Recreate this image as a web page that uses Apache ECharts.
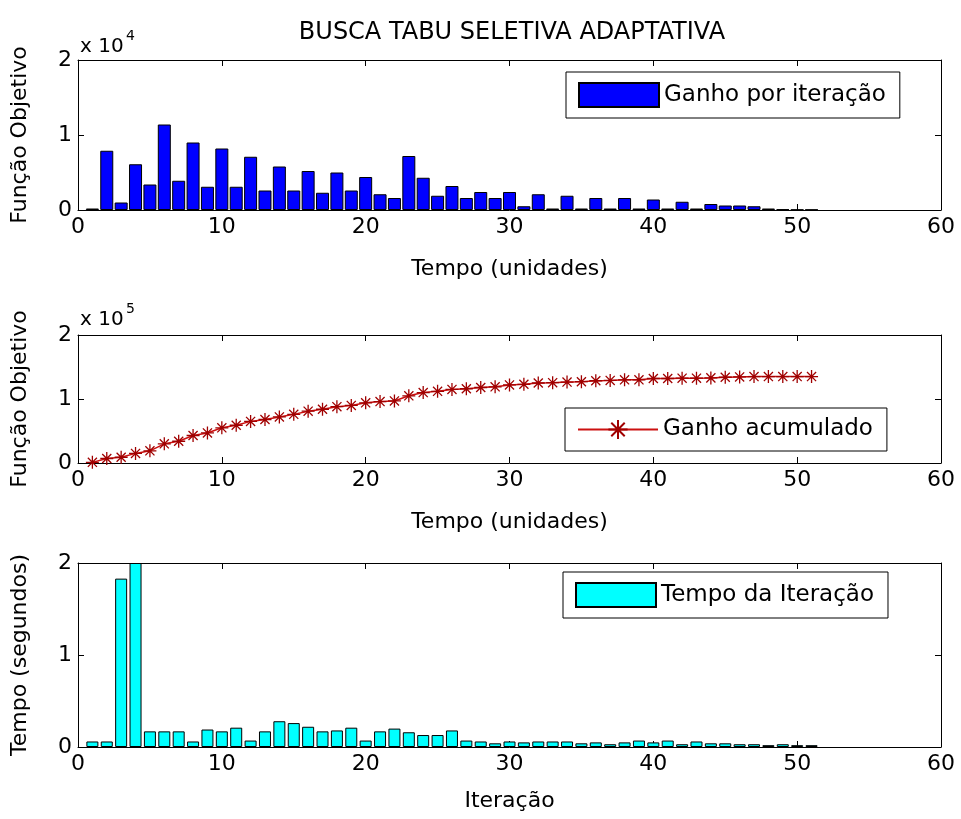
<!DOCTYPE html>
<html>
<head>
<meta charset="utf-8">
<script src="https://cdn.jsdelivr.net/npm/echarts@6/dist/echarts.min.js"></script>
<style>
html, body { margin: 0; padding: 0; background: #fff; }
#chart { width: 961px; height: 819px; }
</style>
</head>
<body>
<div id="chart"></div>
<script>
// iterações (eixo x)
const iteracoes = [1, 2, 3, 4, 5, 6, 7, 8, 9, 10, 11, 12, 13, 14, 15, 16, 17, 18, 19, 20,
  21, 22, 23, 24, 25, 26, 27, 28, 29, 30, 31, 32, 33, 34, 35, 36, 37, 38, 39, 40,
  41, 42, 43, 44, 45, 46, 47, 48, 49, 50, 51]

// ganho por iteração
const ganhoPorIteracao = [200, 7900, 1000, 6100, 3400, 11400, 3900, 9000, 3100, 8200,
  3100, 7100, 2600, 5800, 2600, 5200, 2300, 5000, 2600, 4400,
  2100, 1600, 7200, 4300, 1900, 3200, 1600, 2400, 1600, 2400,
  500, 2100, 200, 1900, 200, 1600, 200, 1600, 200, 1400,
  200, 1100, 200, 800, 600, 600, 500, 200, 100, 50, 50]

// ganho acumulado
const ganhoAcumulado = [1000, 7000, 9000, 15000, 19000, 30000, 34000, 43000, 47000, 55000,
  59000, 65000, 68000, 72000, 76000, 81000, 84000, 88000, 90000, 94000,
  96000, 97000, 105000, 110000, 112000, 115000, 116000, 118000, 119000, 122000,
  123000, 125000, 125500, 126500, 127000, 128500, 129000, 130000, 130000, 132000,
  132000, 132500, 132500, 133000, 134000, 134500, 135000, 135000, 135000, 135000, 135000]

// tempo de cada iteração (segundos)
const tempoIteracao = [0.06, 0.06, 1.83, 2.0, 0.17, 0.17, 0.17, 0.06, 0.19, 0.17,
  0.21, 0.07, 0.17, 0.28, 0.26, 0.22, 0.17, 0.18, 0.21, 0.07,
  0.17, 0.20, 0.16, 0.13, 0.13, 0.18, 0.07, 0.06, 0.04, 0.06,
  0.05, 0.06, 0.06, 0.06, 0.04, 0.05, 0.03, 0.05, 0.07, 0.05,
  0.07, 0.03, 0.06, 0.04, 0.04, 0.03, 0.03, 0.02, 0.03, 0.02, 0.02]

const xTicks = [0, 10, 20, 30, 40, 50, 60]
const yTicks = [0, 1, 2]

const fonte = '"DejaVu Sans", sans-serif'
const tamFonte = 22

const grids = [
  { left: 78, right: 20, top: 60, height: 150 },
  { left: 78, right: 20, top: 335, height: 128 },
  { left: 78, right: 20, top: 563, height: 184 }
]

function eixosX(gridIndex, nome, gap) {
  const base = {
    type: 'value',
    gridIndex: gridIndex,
    min: xTicks[0],
    max: xTicks[xTicks.length - 1],
    interval: xTicks[1] - xTicks[0],
    splitLine: { show: false },
    axisLine: { onZero: false, lineStyle: { color: '#000', width: 1 } },
    axisTick: { inside: true, length: 6, lineStyle: { color: '#000' } }
  }
  return [
    Object.assign({}, base, {
      position: 'bottom',
      axisLabel: { color: '#000', fontSize: tamFonte, fontFamily: fonte, margin: 6 },
      name: nome,
      nameLocation: 'middle',
      nameGap: gap,
      nameTextStyle: { color: '#000', fontSize: tamFonte, fontFamily: fonte }
    }),
    Object.assign({}, base, { position: 'top', axisLabel: { show: false } })
  ]
}

function eixosY(gridIndex, escala) {
  const base = {
    type: 'value',
    gridIndex: gridIndex,
    min: yTicks[0] * escala,
    max: yTicks[yTicks.length - 1] * escala,
    interval: escala,
    splitLine: { show: false },
    axisLine: { show: true, onZero: false, lineStyle: { color: '#000', width: 1 } },
    axisTick: { show: true, inside: true, length: 6, lineStyle: { color: '#000' } }
  }
  return [
    Object.assign({}, base, {
      position: 'left',
      axisLabel: {
        color: '#000', fontSize: tamFonte, fontFamily: fonte, margin: 6,
        formatter: v => String(Math.round(v / escala))
      }
    }),
    Object.assign({}, base, { position: 'right', axisLabel: { show: false } })
  ]
}

function legenda(nome, left, top, icone) {
  const leg = {
    data: [nome],
    left: left,
    top: top,
    itemWidth: 80,
    itemHeight: 24,
    padding: [10, 14, 10, 12],
    borderColor: '#000',
    borderWidth: 1,
    borderRadius: 0,
    backgroundColor: '#fff',
    selectedMode: false,
    textStyle: { color: '#000', fontSize: 23, fontFamily: fonte }
  }
  if (icone) leg.icon = icone
  return leg
}

function textoRotulo(texto, x, y, rot, tam) {
  return {
    type: 'text',
    x: x,
    y: y,
    rotation: rot || 0,
    style: {
      text: texto,
      fill: '#000',
      fontSize: tam || tamFonte,
      fontFamily: fonte,
      align: 'center',
      verticalAlign: 'middle'
    }
  }
}

const asterisco = 'path://M10 0 L10 20 M0 10 L20 10 M3 3 L17 17 M3 17 L17 3'

const chart = echarts.init(document.getElementById('chart'))

const option = {
  animation: false,
  backgroundColor: '#fff',
  textStyle: { fontFamily: fonte },
  grid: grids,
  xAxis: [].concat(
    eixosX(0, 'Tempo (unidades)', 48),
    eixosX(1, 'Tempo (unidades)', 48),
    eixosX(2, 'Iteração', 43)
  ),
  yAxis: [].concat(eixosY(0, 10000), eixosY(1, 100000), eixosY(2, 1)),
  legend: [
    legenda('Ganho por iteração', 566, 72, 'rect'),
    legenda('Ganho acumulado', 565, 408),
    legenda('Tempo da Iteração', 563, 572, 'rect')
  ],
  graphic: [
    textoRotulo('BUSCA TABU SELETIVA ADAPTATIVA', 512, 33, 0, 24),
    { type: 'text', x: 80, y: 47, style: { text: 'x 10', fill: '#000', fontSize: 20, fontFamily: fonte, align: 'left', verticalAlign: 'middle' } },
    { type: 'text', x: 126, y: 36, style: { text: '4', fill: '#000', fontSize: 14, fontFamily: fonte, align: 'left', verticalAlign: 'middle' } },
    { type: 'text', x: 80, y: 320, style: { text: 'x 10', fill: '#000', fontSize: 20, fontFamily: fonte, align: 'left', verticalAlign: 'middle' } },
    { type: 'text', x: 126, y: 309, style: { text: '5', fill: '#000', fontSize: 14, fontFamily: fonte, align: 'left', verticalAlign: 'middle' } },
    textoRotulo('Função Objetivo', 20, 135, Math.PI / 2),
    textoRotulo('Função Objetivo', 20, 399, Math.PI / 2),
    textoRotulo('Tempo (segundos)', 20, 655, Math.PI / 2)
  ],
  series: [
    {
      type: 'bar',
      name: 'Ganho por iteração',
      xAxisIndex: 0,
      yAxisIndex: 0,
      barWidth: 13,
      itemStyle: { color: '#0000ff', borderColor: '#000', borderWidth: 1 },
      data: iteracoes.map((x, i) => [x, ganhoPorIteracao[i]])
    },
    {
      type: 'line',
      name: 'Ganho acumulado',
      xAxisIndex: 2,
      yAxisIndex: 2,
      symbol: asterisco,
      symbolSize: 13,
      lineStyle: { color: '#cc1010', width: 1.5 },
      itemStyle: { color: '#dd0000', borderColor: '#a00000', borderWidth: 1.3 },
      data: iteracoes.map((x, i) => [x, ganhoAcumulado[i]])
    },
    {
      type: 'bar',
      name: 'Tempo da Iteração',
      xAxisIndex: 4,
      yAxisIndex: 4,
      barWidth: 12,
      itemStyle: { color: '#00ffff', borderColor: '#000', borderWidth: 1 },
      data: iteracoes.map((x, i) => [x, tempoIteracao[i]])
    }
  ]
}

chart.setOption(option)
</script>
</body>
</html>
